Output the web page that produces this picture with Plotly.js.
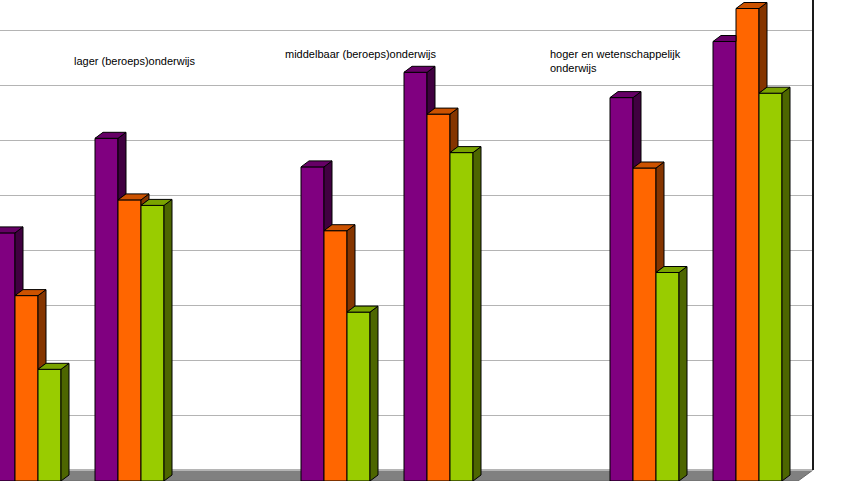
<!DOCTYPE html>
<html>
<head>
<meta charset="utf-8">
<script src="https://cdn.plot.ly/plotly-3.0.1.min.js"></script>
<style>
html,body{margin:0;padding:0;background:#ffffff;overflow:hidden}
#chart{width:856px;height:481px}
</style>
</head>
<body>
<div id="chart"></div>
<script>
// ---- data (gridline step = 5) ----
const slots = [0, 1, 3, 4, 6, 7];
const seriesNames = ['reeks 1', 'reeks 2', 'reeks 3'];
const purpleValues = [22.1, 30.7, 28.1, 36.7, 34.4, 39.5];
const orangeValues = [16.4, 25.1, 22.3, 32.9, 28.0, 42.5];
const greenValues  = [9.7, 24.6, 14.9, 29.4, 18.5, 34.8];
const levelLabels = ['lager (beroeps)onderwijs', 'middelbaar (beroeps)onderwijs', 'hoger en wetenschappelijk<br>onderwijs'];

// ---- styling / geometry ----
const W = 856, H = 481, MR = 43, plotW = W - MR;
const slotPx = 103, firstSlotPx = 26.5, unitPx = 11, backBasePx = 470;
const xRange = [-firstSlotPx / slotPx, (plotW - firstSlotPx) / slotPx];
const yRange = [(backBasePx - H) / unitPx, backBasePx / unitPx];
const BASE = yRange[0];
const DX = 8 / slotPx, DY = 6 / unitPx;
const BARGAP = 0.33;
const BW = (1 - BARGAP) / 3;
const frontColors = ['#800080', '#FF6600', '#99CC00'];
const topColors   = ['#660066', '#CC5200', '#7AA300'];
const sideColors  = ['#400040', '#853500', '#4D6600'];
const series = [purpleValues, orangeValues, greenValues];

const traces = [];
// front faces as real bars
series.forEach((vals, k) => {
  traces.push({
    type: 'bar', name: seriesNames[k], x: slots,
    y: vals.map(v => (v - DY) - BASE), base: BASE,
    marker: {color: frontColors[k], line: {color: '#000000', width: 1}},
    hoverinfo: 'skip', showlegend: false
  });
});
// top and side faces, computed from the same values
series.forEach((vals, k) => {
  const sx = [], sy = [], tx = [], ty = [];
  vals.forEach((v, i) => {
    const L = slots[i] + (k - 1) * BW - BW / 2, R = L + BW, T = v - DY;
    const next = k < 2 ? series[k + 1][i] - DY : null;
    // top
    if (next !== null && next > T) {
      tx.push(L, R, R, L + DX, L, null); ty.push(T, T, T + DY, T + DY, T, null);
    } else {
      tx.push(L, R, R + DX, L + DX, L, null); ty.push(T, T, T + DY, T + DY, T, null);
    }
    // side
    if (next === null) {
      sx.push(R, R, R + DX, R + DX, R, null); sy.push(BASE, T, T + DY, BASE + DY, BASE, null);
    } else if (next < T) {
      sx.push(R, R, R + DX, R + DX, R, null); sy.push(next, T, T + DY, next + DY, next, null);
    }
  });
  traces.push({type: 'scatter', mode: 'lines', x: sx, y: sy, fill: 'toself', fillcolor: sideColors[k],
    line: {color: '#000000', width: 1}, hoverinfo: 'skip', showlegend: false});
  traces.push({type: 'scatter', mode: 'lines', x: tx, y: ty, fill: 'toself', fillcolor: topColors[k],
    line: {color: '#000000', width: 1}, hoverinfo: 'skip', showlegend: false});
});

const font = {family: 'Liberation Sans, Arial, sans-serif', size: 11, color: '#000000'};
const px2x = px => (px) / plotW, py2y = py => 1 - py / H;

const layout = {
  width: W, height: H,
  margin: {l: 0, r: MR, t: 0, b: 0, pad: 0, autoexpand: false},
  paper_bgcolor: '#ffffff', plot_bgcolor: '#ffffff',
  barmode: 'group', bargap: BARGAP, bargroupgap: 0,
  showlegend: false, font: font,
  xaxis: {range: xRange, showgrid: false, zeroline: false, showticklabels: false, ticks: '', showline: false, fixedrange: true},
  yaxis: {range: yRange, tick0: 0, dtick: 5, showgrid: true, gridcolor: '#b4b4b4', gridwidth: 1,
          zeroline: false, showticklabels: false, ticks: '', showline: false, fixedrange: true},
  shapes: [
    {type: 'path', xref: 'x', yref: 'y', layer: 'below',
     path: `M ${xRange[0] - 0.2},0 L ${xRange[1]},0 L ${xRange[1] - 15 / slotPx},${BASE} L ${xRange[0] - 0.2},${BASE} Z`,
     fillcolor: '#808080', line: {color: '#6a6a6a', width: 1}},
    {type: 'line', xref: 'paper', yref: 'y', x0: 1, x1: 1, y0: 0, y1: yRange[1],
     line: {color: '#1a1a1a', width: 2}}
  ],
  annotations: [
    {text: levelLabels[0], xref: 'paper', yref: 'paper', x: px2x(71.5), y: py2y(61), xanchor: 'left', yanchor: 'middle', showarrow: false, font: font, align: 'left'},
    {text: levelLabels[1], xref: 'paper', yref: 'paper', x: px2x(283), y: py2y(54), xanchor: 'left', yanchor: 'middle', showarrow: false, font: font, align: 'left'},
    {text: levelLabels[2], xref: 'paper', yref: 'paper', x: px2x(548), y: py2y(61), xanchor: 'left', yanchor: 'middle', showarrow: false, font: font, align: 'left'}
  ]
};

Plotly.newPlot('chart', traces, layout, {displayModeBar: false, staticPlot: true});
</script>
</body>
</html>
